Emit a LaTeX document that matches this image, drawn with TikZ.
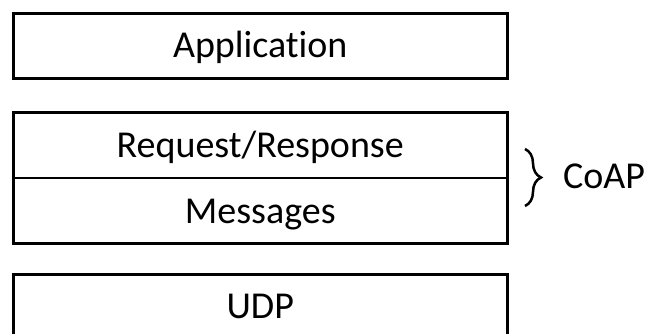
\documentclass[tikz,border=0pt]{standalone}
\usepackage{fontspec}
\setmainfont{Carlito}[Ligatures=NoCommon]
\usetikzlibrary{decorations.pathreplacing}
\begin{document}
\begin{tikzpicture}[x=1pt,y=-1pt,
  layerbox/.style={draw=black, line width=3pt, minimum width=493.5pt, inner sep=0pt, outer sep=0pt},
  lbl/.style={font=\fontsize{38}{42}\selectfont, inner sep=0pt, anchor=base},
  divider/.style={draw=black, line width=1.5pt},
  bracestyle/.style={draw=black, line width=2.5pt, decorate, decoration={brace, amplitude=16pt}},
]
\useasboundingbox (0,0) rectangle (650,333);
\node[layerbox, minimum height=65pt] (app) at (260.25,46) {};
\node[layerbox, minimum height=131.5pt] (mid) at (260.25,177.75) {};
\node[layerbox, minimum height=65pt] (udp) at (260.25,306.5) {};
\draw[divider] (mid.west) -- (mid.east);
\node[lbl] (apptxt) at (260.25,57.5) {Application};
\node[lbl] (reqtxt) at (260.25,157) {Request/Response};
\node[lbl] (msgtxt) at (260.25,223.5) {Messages};
\node[lbl] (udptxt) at (260.25,318) {UDP};
\coordinate (brtop) at (525,149);
\coordinate (brbot) at (525,206);
\draw[bracestyle] (brtop) -- (brbot);
\node[lbl, anchor=base west] (coap) at (563,188) {CoAP};
\end{tikzpicture}
\end{document}
